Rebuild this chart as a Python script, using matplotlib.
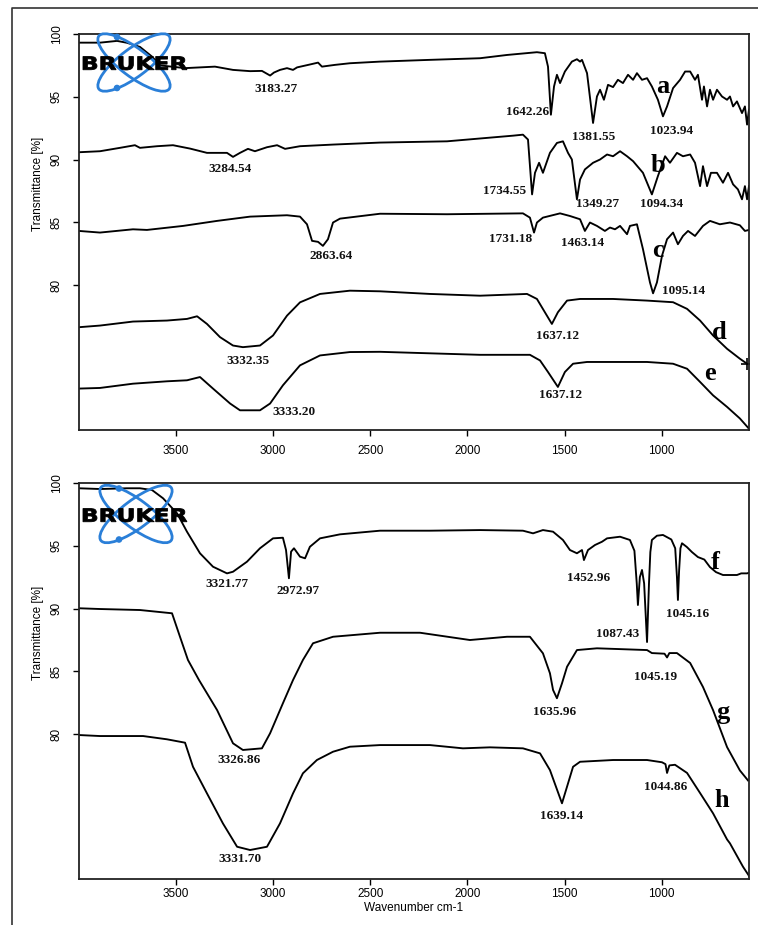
import matplotlib
matplotlib.use("Agg")  # no display
import matplotlib.pyplot as plt
import matplotlib.transforms as mtransforms
from matplotlib.patches import Ellipse, Circle, PathPatch
from matplotlib.textpath import TextPath
from matplotlib.font_manager import FontProperties

# FTIR spectra, (wavenumber cm-1, transmittance %) pairs
spec_a = [(4000, 99.31), (3892, 99.31), (3804, 99.45), (3753, 99.3), (3686, 98.97), (3624, 98.2),
          (3583, 97.5), (3454, 97.28), (3377, 97.34), (3300, 97.4), (3207, 97.14), (3119, 97.04),
          (3058, 97.06), (3016, 96.69), (2996, 96.93), (2965, 97.14), (2929, 97.28), (2898, 97.14),
          (2877, 97.34), (2811, 97.57), (2769, 97.72), (2749, 97.40), (2682, 97.54), (2605, 97.67),
          (2450, 97.8), (2193, 97.94), (1935, 98.07), (1796, 98.33), (1642, 98.55), (1601, 98.47),
          (1585, 97.4), (1570, 93.57), (1554, 95.82), (1539, 96.75), (1523, 96.09), (1498, 97.01),
          (1462, 97.8), (1436, 97.99), (1420, 97.8), (1410, 97.94), (1384, 96.88), (1353, 92.91),
          (1333, 95.02), (1317, 95.56), (1297, 94.76), (1276, 95.95), (1250, 95.77), (1225, 96.35),
          (1199, 96.09), (1173, 96.75), (1147, 96.35), (1127, 96.88), (1101, 96.35), (1075, 96.48),
          (1050, 95.82), (1019, 94.76), (993, 93.44), (972, 94.23), (941, 95.69), (905, 96.35),
          (879, 97.01), (853, 97.01), (828, 96.35), (813, 96.75), (792, 94.76), (782, 95.82),
          (766, 94.23), (751, 95.56), (735, 94.76), (715, 95.56), (689, 95.02), (663, 94.76),
          (648, 95.02), (632, 94.23), (612, 94.63), (586, 93.7), (571, 94.23), (560, 92.78),
          (550, 93.97)]
spec_b = [(4000, 90.58), (3892, 90.66), (3789, 90.93), (3712, 91.14), (3686, 90.93), (3598, 91.06),
          (3516, 91.14), (3428, 90.87), (3341, 90.53), (3238, 90.53), (3207, 90.21), (3171, 90.53),
          (3130, 90.85), (3094, 90.66), (3032, 90.98), (2980, 91.14), (2939, 90.85), (2862, 91.06),
          (2692, 91.19), (2450, 91.35), (2105, 91.45), (1765, 91.9), (1714, 91.98), (1688, 91.59),
          (1667, 87.22), (1652, 88.94), (1631, 89.74), (1611, 88.94), (1575, 90.53), (1539, 91.32),
          (1508, 91.45), (1482, 90.53), (1462, 90.0), (1436, 86.83), (1420, 88.41), (1395, 89.21),
          (1353, 89.74), (1317, 90.0), (1281, 90.4), (1250, 90.26), (1214, 90.66), (1178, 90.26),
          (1147, 89.87), (1096, 88.94), (1050, 87.22), (1019, 88.68), (982, 90.26), (957, 89.74),
          (921, 90.53), (890, 90.26), (853, 90.4), (828, 89.74), (802, 87.88), (787, 89.47),
          (766, 87.88), (746, 88.94), (715, 88.94), (684, 88.15), (658, 88.94), (632, 88.02),
          (607, 87.62), (586, 86.83), (571, 87.88), (560, 86.83), (550, 87.88)]
spec_c = [(4000, 84.31), (3892, 84.18), (3722, 84.44), (3650, 84.39), (3464, 84.71), (3289, 85.11),
          (3119, 85.45), (2929, 85.56), (2862, 85.45), (2826, 84.84), (2800, 83.52), (2769, 83.44),
          (2744, 83.12), (2718, 83.65), (2692, 84.98), (2656, 85.29), (2450, 85.68), (2105, 85.64),
          (1714, 85.71), (1678, 85.37), (1657, 84.18), (1642, 84.98), (1611, 85.37), (1523, 85.71),
          (1472, 85.5), (1420, 85.24), (1395, 84.31), (1369, 84.98), (1333, 84.71), (1292, 84.31),
          (1266, 84.58), (1240, 84.44), (1214, 84.71), (1178, 84.05), (1163, 84.71), (1127, 84.84),
          (1096, 82.86), (1060, 80.21), (1044, 79.34), (1024, 80.21), (998, 82.33), (972, 83.65),
          (941, 84.18), (916, 83.25), (890, 83.91), (864, 84.31), (828, 83.91), (787, 84.71),
          (751, 85.11), (700, 84.84), (648, 84.98), (597, 84.76), (571, 84.31), (550, 84.39)]
spec_d = [(4000, 76.64), (3892, 76.77), (3722, 77.09), (3547, 77.17), (3444, 77.3), (3392, 77.51),
          (3341, 76.9), (3274, 75.85), (3207, 75.18), (3156, 75.05), (3068, 75.18), (3001, 75.98),
          (2929, 77.56), (2862, 78.62), (2759, 79.29), (2605, 79.55), (2450, 79.5), (2193, 79.29),
          (1935, 79.15), (1693, 79.29), (1642, 78.89), (1601, 77.83), (1565, 76.9), (1534, 77.83),
          (1487, 78.76), (1420, 78.89), (1250, 78.89), (1075, 78.76), (941, 78.63), (869, 78.1),
          (802, 77.17), (735, 75.98), (663, 74.92), (597, 74.13), (560, 73.73)]
spec_e = [(4000, 71.75), (3892, 71.8), (3722, 72.14), (3547, 72.33), (3444, 72.41), (3377, 72.67),
          (3310, 71.75), (3222, 70.56), (3171, 70.02), (3068, 70.02), (3016, 70.56), (2950, 72.01),
          (2862, 73.6), (2759, 74.39), (2605, 74.66), (2450, 74.68), (2280, 74.6), (1935, 74.44),
          (1678, 74.44), (1626, 73.99), (1585, 73.07), (1534, 71.88), (1498, 73.07), (1456, 73.73),
          (1384, 73.87), (1075, 73.87), (941, 73.73), (869, 73.33), (802, 72.28), (735, 71.21),
          (663, 70.29), (597, 69.37), (550, 68.55)]

spec_f = [(4000, 99.58), (3892, 99.52), (3753, 99.58), (3686, 99.58), (3624, 99.44), (3567, 98.78),
          (3495, 97.58), (3444, 96.12), (3377, 94.4), (3310, 93.33), (3238, 92.8), (3207, 92.93),
          (3135, 93.73), (3068, 94.8), (3001, 95.59), (2950, 95.64), (2934, 94.66), (2919, 92.41),
          (2908, 94.53), (2893, 94.8), (2862, 94.13), (2836, 94.0), (2811, 94.92), (2759, 95.59),
          (2656, 95.91), (2450, 96.2), (2193, 96.2), (1935, 96.25), (1714, 96.2), (1662, 95.99),
          (1611, 96.25), (1559, 96.12), (1508, 95.46), (1472, 94.66), (1436, 94.4), (1410, 94.66),
          (1400, 93.86), (1379, 94.66), (1343, 95.06), (1307, 95.32), (1281, 95.59), (1214, 95.72),
          (1163, 95.46), (1140, 94.6), (1128, 92.0), (1122, 90.28), (1112, 92.5), (1101, 93.07),
          (1090, 92.0), (1075, 87.33), (1065, 92.0), (1058, 94.5), (1050, 95.46), (1024, 95.8),
          (993, 95.86), (950, 95.5), (930, 94.8), (921, 92.5), (916, 90.68), (910, 93.0),
          (903, 94.8), (895, 95.2), (870, 94.9), (844, 94.5), (813, 94.1), (780, 93.9),
          (751, 93.3), (720, 92.9), (684, 92.67), (612, 92.67), (590, 92.8), (560, 92.8), (550, 92.85)]
spec_g = [(4000, 90.02), (3892, 89.96), (3686, 89.88), (3521, 89.62), (3480, 87.75), (3439, 85.9),
          (3382, 84.3), (3289, 81.91), (3207, 79.26), (3156, 78.73), (3058, 78.86), (3016, 80.06),
          (2950, 82.45), (2898, 84.3), (2847, 85.9), (2795, 87.23), (2692, 87.75), (2450, 88.07),
          (2244, 88.07), (1987, 87.49), (1796, 87.75), (1678, 87.75), (1611, 86.43), (1575, 84.84),
          (1559, 83.51), (1539, 82.85), (1513, 84.04), (1487, 85.36), (1436, 86.69), (1333, 86.83),
          (1075, 86.69), (1050, 86.45), (985, 86.4), (972, 86.1), (960, 86.45), (921, 86.45),
          (853, 85.66), (787, 83.75), (735, 81.9), (663, 78.96), (597, 77.1), (555, 76.3)]
spec_h = [(4000, 79.92), (3892, 79.84), (3670, 79.84), (3547, 79.58), (3454, 79.31), (3413, 77.39),
          (3341, 75.27), (3259, 72.88), (3186, 71.02), (3119, 70.76), (3032, 71.02), (2965, 72.88),
          (2898, 75.27), (2847, 76.87), (2775, 77.93), (2692, 78.59), (2605, 78.99), (2450, 79.12),
          (2193, 79.12), (2023, 78.86), (1884, 78.94), (1714, 78.86), (1626, 78.46), (1575, 77.13),
          (1513, 74.48), (1482, 76.06), (1456, 77.39), (1420, 77.79), (1250, 77.93), (1075, 77.93),
          (998, 77.75), (980, 77.6), (972, 76.9), (960, 77.5), (931, 77.55), (869, 76.9),
          (802, 75.3), (735, 73.68), (663, 71.6), (648, 71.29), (581, 69.43), (550, 68.7)]

# peak annotations: (text, wavenumber, baseline transmittance)
peaks_top = [("3183.27", 2986, 95.38), ("3284.54", 3222, 89.00), ("1642.26", 1688, 93.55),
             ("1381.55", 1348, 91.55), ("1023.94", 947, 92.03), ("1734.55", 1807, 87.25),
             ("1349.27", 1328, 86.22), ("1094.34", 998, 86.22), ("2863.64", 2702, 82.07),
             ("1731.18", 1776, 83.43), ("1463.14", 1405, 83.11), ("1095.14", 885, 79.32),
             ("3332.35", 3130, 73.71), ("1637.12", 1534, 75.70), ("3333.20", 2893, 69.64),
             ("1637.12", 1518, 70.99)]
peaks_bottom = [("3321.77", 3238, 91.71), ("2972.97", 2872, 91.16), ("1452.96", 1374, 92.19),
                ("1087.43", 1225, 87.73), ("1045.16", 864, 89.36), ("1045.19", 1029, 84.30),
                ("1635.96", 1549, 81.51), ("3326.86", 3176, 77.69), ("1044.86", 978, 75.54),
                ("1639.14", 1513, 73.23), ("3331.70", 3171, 69.80)]

letters_top = [("a", 995, 95.30), ("b", 1019, 89.0), ("c", 1021, 82.23), ("d", 705, 75.7), ("e", 751, 72.43)]
letters_bottom = [("f", 725, 93.15), ("g", 684, 81.2), ("h", 689, 74.18)]

x_ticks = [3500, 3000, 2500, 2000, 1500, 1000]
y_ticks = [80, 85, 90, 95, 100]

W, H = 758, 925
fig = plt.figure(figsize=(W / 100, H / 100), dpi=100)
fig.patch.set_facecolor("white")

ax_top = fig.add_axes([79 / W, 1 - 430 / H, 670 / W, 396 / H])
ax_bot = fig.add_axes([79 / W, 1 - 879 / H, 670 / W, 396 / H])

serif = "Liberation Serif"
sans = "Liberation Sans"

panels = [
    (ax_top, [spec_a, spec_b, spec_c, spec_d, spec_e], peaks_top, letters_top, 6.5),
    (ax_bot, [spec_f, spec_g, spec_h], peaks_bottom, letters_bottom, 2.2),
]

for ax, spectra, peaks, letters, xpad in panels:
    for spec in spectra:
        wn = [p[0] for p in spec]
        tr = [p[1] for p in spec]
        ax.plot(wn, tr, color="black", lw=1.35, solid_joinstyle="round")
    for txt, wn, tr in peaks:
        ax.text(wn, tr, txt, ha="center", va="baseline", fontsize=9.5,
                family=serif, fontweight="bold", color="#111111")
    for txt, wn, tr in letters:
        ax.text(wn, tr, txt, ha="center", va="baseline", fontsize=19,
                family=serif, fontweight="bold", color="black")

    ax.set_xlim(4000, 550)
    ax.set_ylim(68.45, 100)
    ax.set_xticks(x_ticks)
    ax.set_yticks(y_ticks)
    ax.set_xticklabels([str(v) for v in x_ticks], family=sans, fontsize=8.5)
    ax.set_yticklabels([str(v) for v in y_ticks], family=sans, fontsize=8.5,
                       rotation=90, va="center")
    ax.tick_params(axis="x", direction="out", length=4.3, width=1, pad=xpad)
    ax.tick_params(axis="y", direction="out", length=4.3, width=1, pad=7.5)
    for side in ["left", "bottom", "top", "right"]:
        ax.spines[side].set_linewidth(1.3)
        ax.spines[side].set_color("#222222")
    ax.set_ylabel("Transmittance [%]", family=sans, fontsize=8.5)
    ax.yaxis.set_label_coords(-0.052, 0.622)

# marker at the end of trace d
ax_top.plot([spec_d[-1][0]], [spec_d[-1][1]], marker="+", color="black", ms=8, mew=1.2)

ax_bot.set_xlabel("Wavenumber cm-1", family=sans, fontsize=8.5)
ax_bot.xaxis.set_label_coords(0.5, -0.058)

# overlay in pixel units for the frame and the instrument logo
ov = fig.add_axes([0, 0, 1, 1], facecolor="none")
ov.set_xlim(0, W)
ov.set_ylim(H, 0)
ov.axis("off")
ov.plot([12, 12, W], [H, 8, 8], color="#333333", lw=1.2, solid_capstyle="butt")

logo_blue = "#2a7fd8"
bruker_path = TextPath((0, 0), "BRUKER", size=1,
                       prop=FontProperties(family="DejaVu Sans", weight="bold"))
bb = bruker_path.get_extents()

for cx, cy, text_bottom in [(134, 62.5, 70), (136, 514, 522)]:
    for ang in (37, -37):
        ov.add_patch(Ellipse((cx, cy), 88, 28, angle=ang, fill=False,
                             edgecolor=logo_blue, lw=2.0))
    for dy in (-25.5, 25.5):
        ov.add_patch(Circle((cx - 17, cy + dy), 2.6, color=logo_blue))
    sx = 104 / bb.width
    sy = 13.5 / bb.height
    tr = (mtransforms.Affine2D().translate(-bb.x0, -bb.y0).scale(sx, -sy)
          .translate(83, text_bottom) + ov.transData)
    ov.add_patch(PathPatch(bruker_path, transform=tr, facecolor="black",
                           edgecolor="black", lw=0.6))

fig.savefig("out.png", dpi=100)
